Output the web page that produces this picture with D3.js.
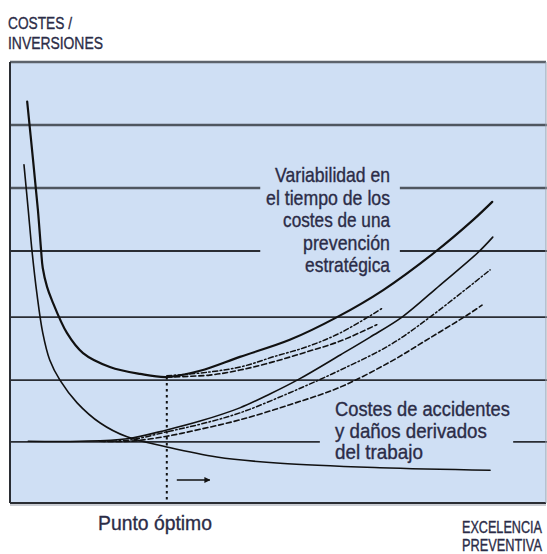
<!DOCTYPE html>
<html>
<head>
<meta charset="utf-8">
<script src="https://cdn.jsdelivr.net/npm/d3@7"></script>
<style>
  html, body { margin: 0; padding: 0; background: #ffffff; }
  svg { display: block; }
  text { font-family: "Liberation Sans Narrow", "Arial Narrow", "Liberation Sans", Arial, sans-serif; fill: #2b2c47; stroke: #2b2c47; stroke-width: 0.35px; }
</style>
</head>
<body>
<svg id="chart" width="547" height="554"></svg>
<script>
// ---------- DATA (x: preventive excellence 0-100, y: costs 0-7) ----------
const gridValues = [0.97, 1.95, 2.95, 4, 5, 6];

// Total cost curve (thick solid)
const totalCost = [
  [3.2, 6.37], [4.3, 5.44], [5.2, 4.65], [5.8, 4.00], [6.1, 3.73], [6.9, 3.43],
  [7.8, 3.22], [10.6, 2.70], [13.6, 2.38], [18.6, 2.16], [24.2, 2.05], [29.2, 2.00],
  [35.4, 2.10], [42.8, 2.32], [52.1, 2.59], [60.9, 2.95], [69.5, 3.38], [79.1, 3.98],
  [86.2, 4.49], [89.8, 4.78]
];
// Total cost variants (dash-dot / dashed)
const totalDashDot = [
  [29.2, 2.02], [37.2, 2.08], [43.4, 2.17], [49.0, 2.32], [55.3, 2.48], [61.5, 2.70], [69.5, 3.10]
];
const totalDashed = [
  [29.2, 2.00], [37.2, 2.03], [42.8, 2.11], [49.0, 2.24], [55.3, 2.40], [61.5, 2.57], [68.3, 2.83]
];
// Accident & damage costs (thin solid, decreasing)
const accidentCost = [
  [2.6, 5.37], [3.4, 4.65], [4.1, 4.00], [5.0, 3.33], [6.1, 2.70], [7.4, 2.27],
  [9.3, 1.95], [12.5, 1.59], [16.8, 1.27], [21.8, 1.05], [29.2, 0.89], [38.5, 0.73],
  [50.3, 0.63], [68.9, 0.56], [89.4, 0.52]
];
// Prevention costs (thin solid, increasing)
const preventionCost = [
  [3.4, 0.98], [13.0, 0.98], [21.8, 1.02], [29.2, 1.16], [35.4, 1.30], [42.8, 1.51],
  [48.4, 1.73], [53.9, 1.97], [61.5, 2.35], [67.0, 2.63], [73.0, 2.95], [80.1, 3.46],
  [87.2, 3.98], [89.9, 4.22]
];
const preventionDashDot = [
  [16.8, 0.98], [22.3, 1.00], [29.2, 1.13], [35.4, 1.25], [42.8, 1.43], [52.1, 1.75],
  [61.5, 2.11], [70.8, 2.51], [78.2, 2.95], [89.4, 3.70]
];
const preventionDashed = [
  [16.8, 0.98], [22.3, 0.98], [29.2, 1.06], [35.4, 1.17], [42.8, 1.32], [52.1, 1.56],
  [61.5, 1.84], [70.8, 2.24], [78.2, 2.62], [85.1, 2.98], [87.9, 3.14]
];
const optimumX = 29.2;
const optimumY = 2.0;

// Text
const yAxisTitle = ["COSTES /", "INVERSIONES"];
const xAxisTitle = ["EXCELENCIA", "PREVENTIVA"];
const optimumLabel = "Punto óptimo";
const variabilityLabel = ["Variabilidad en", "el tiempo de los", "costes de una", "prevención", "estratégica"];
const accidentLabel = ["Costes de accidentes", "y daños derivados", "del trabajo"];

// ---------- LAYOUT ----------
const svg = d3.select("#chart");
const plot = { left: 10, top: 62, right: 546, bottom: 503 };
const x = d3.scaleLinear().domain([0, 100]).range([10, 547]);
const y = d3.scaleLinear().domain([0, 7]).range([503, 62]);

// background
svg.append("rect")
  .attr("x", plot.left).attr("y", plot.top)
  .attr("width", plot.right - plot.left).attr("height", plot.bottom - plot.top)
  .attr("fill", "#cfdff4");

// shadow under bottom border
svg.append("line")
  .attr("x1", plot.left).attr("x2", plot.right)
  .attr("y1", plot.bottom + 2).attr("y2", plot.bottom + 2)
  .attr("stroke", "#b9bcc4").attr("stroke-width", 1.5);

// gridlines with gaps for labels (gaps in x-domain units)
const gaps = { 4: [46.6, 72.6], 5: [46.6, 72.6], 0.97: [57.7, 93.7] };
gridValues.forEach(v => {
  const segs = gaps[v] ? [[0, gaps[v][0]], [gaps[v][1], 100]] : [[0, 100]];
  const heavy = v >= 5;
  segs.forEach(s => {
    svg.append("line")
      .attr("x1", x(s[0])).attr("x2", x(s[1]))
      .attr("y1", y(v)).attr("y2", y(v))
      .attr("stroke", heavy ? "#4f565f" : "#2a2d33")
      .attr("stroke-width", heavy ? 2.6 : 1.8);
  });
});

// frame
svg.append("line").attr("x1", plot.left).attr("x2", plot.right)
  .attr("y1", plot.top).attr("y2", plot.top)
  .attr("stroke", "#5d636b").attr("stroke-width", 2.6);
svg.append("line").attr("x1", plot.left).attr("x2", plot.left)
  .attr("y1", plot.top).attr("y2", plot.bottom)
  .attr("stroke", "#2a2d33").attr("stroke-width", 2);
svg.append("line").attr("x1", plot.left).attr("x2", plot.right)
  .attr("y1", plot.bottom).attr("y2", plot.bottom)
  .attr("stroke", "#2a2d33").attr("stroke-width", 2);
svg.append("line").attr("x1", plot.right).attr("x2", plot.right)
  .attr("y1", plot.top).attr("y2", plot.bottom)
  .attr("stroke", "#9aa3ae").attr("stroke-width", 1);

// curves
const line = d3.line().x(d => x(d[0])).y(d => y(d[1])).curve(d3.curveCatmullRom.alpha(0.5));
const series = [
  { data: accidentCost, width: 1.6, dash: null },
  { data: preventionDashed, width: 1.6, dash: "5,3" },
  { data: preventionDashDot, width: 1.5, dash: "5,2.5,1.5,2.5" },
  { data: preventionCost, width: 1.6, dash: null },
  { data: totalDashed, width: 1.6, dash: "5,3" },
  { data: totalDashDot, width: 1.5, dash: "5,2.5,1.5,2.5" },
  { data: totalCost, width: 2.2, dash: null }
];
series.forEach(s => {
  svg.append("path")
    .attr("d", line(s.data))
    .attr("fill", "none")
    .attr("stroke", "#111")
    .attr("stroke-width", s.width)
    .attr("stroke-linecap", "round")
    .attr("stroke-dasharray", s.dash);
});

// optimum dotted line
svg.append("line")
  .attr("x1", x(optimumX)).attr("x2", x(optimumX))
  .attr("y1", y(optimumY)).attr("y2", plot.bottom)
  .attr("stroke", "#111").attr("stroke-width", 2)
  .attr("stroke-dasharray", "2.5,3.5");

// arrow
svg.append("defs").append("marker")
  .attr("id", "arrowhead").attr("viewBox", "0 0 10 10")
  .attr("refX", 9).attr("refY", 5)
  .attr("markerWidth", 4).attr("markerHeight", 5).attr("markerUnits", "strokeWidth")
  .attr("orient", "auto")
  .append("path").attr("d", "M0,0 L10,5 L0,10 Z").attr("fill", "#111");
svg.append("line")
  .attr("x1", x(optimumX) + 10).attr("x2", x(optimumX) + 43)
  .attr("y1", 480).attr("y2", 480)
  .attr("stroke", "#111").attr("stroke-width", 1.5)
  .attr("marker-end", "url(#arrowhead)");

// texts: horizontally condensed via a scale transform so the box matches the drawn glyphs
function addText(str, px, py, size, len, anchor) {
  const g = svg.append("g").attr("transform", `translate(${px},${py})`);
  const t = g.append("text")
    .attr("x", 0).attr("y", 0)
    .attr("font-size", size)
    .attr("text-anchor", anchor || "start")
    .text(str);
  const natural = t.node().getComputedTextLength();
  const k = natural > 0 ? len / natural : 1;
  t.attr("transform", `scale(${k},1)`);
  return t;
}
// y-axis title
const yTitleLens = [64, 95];
yAxisTitle.forEach((t, i) => addText(t, 8, 29 + i * 20, 17, yTitleLens[i]));
// x-axis title
const xTitleLens = [80, 80];
xAxisTitle.forEach((t, i) => addText(t, 462, 533 + i * 18, 16, xTitleLens[i]));
// optimum label
addText(optimumLabel, 98, 530, 21, 114);
// variability label (right-aligned)
const varLens = [115, 124, 107, 87, 85];
variabilityLabel.forEach((t, i) => addText(t, 390, 182 + i * 22.5, 20, varLens[i], "end"));
// accident label
const accLens = [175, 152, 88];
accidentLabel.forEach((t, i) => addText(t, 335, 416 + i * 21.7, 20, accLens[i]));
</script>
</body>
</html>
